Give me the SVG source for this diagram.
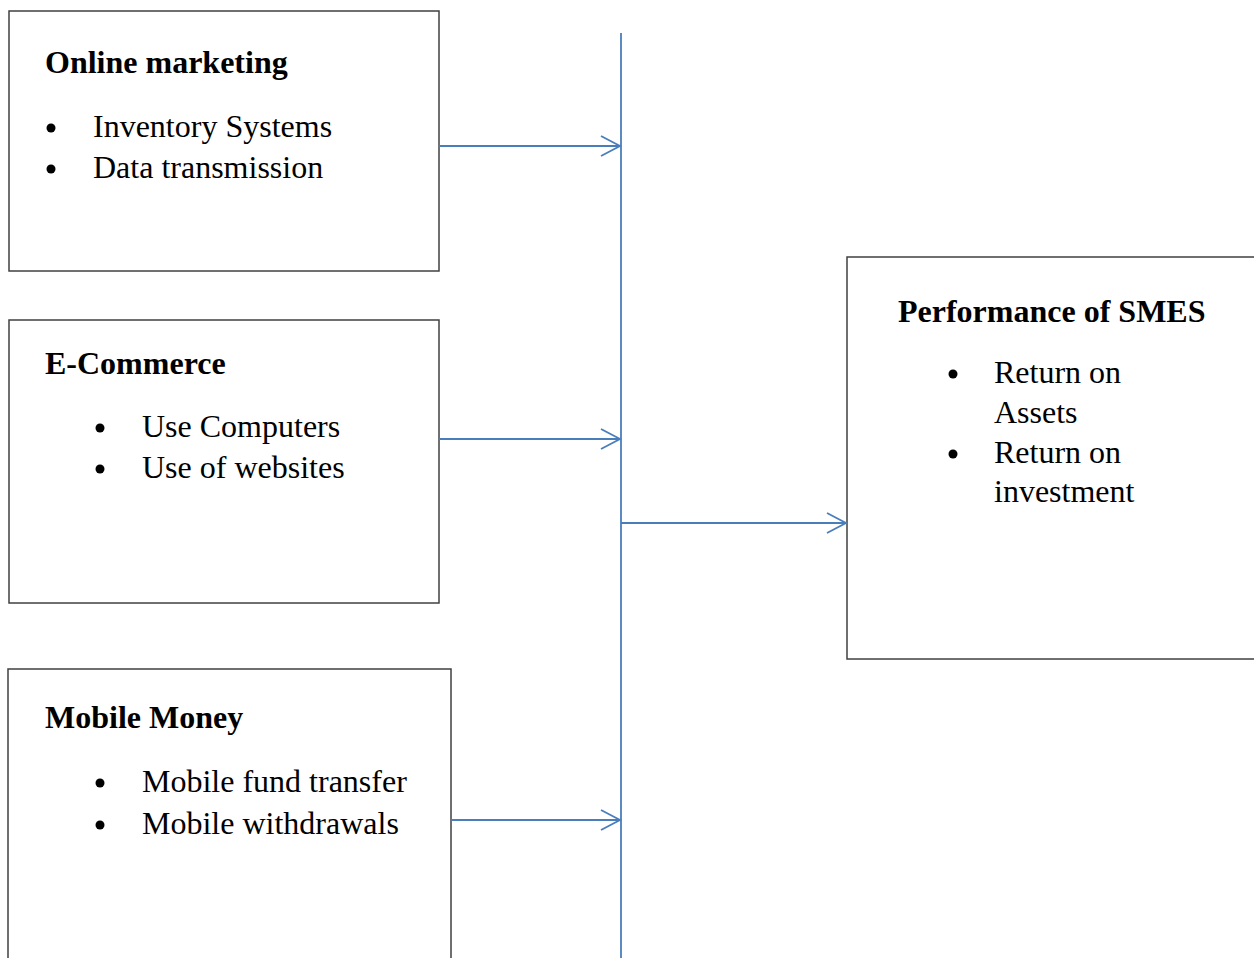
<svg xmlns="http://www.w3.org/2000/svg" width="1254" height="958" viewBox="0 0 1254 958">
  <style>
    .box { fill: #ffffff; stroke: #404040; stroke-width: 1.5; }
    .title { font-family: "Liberation Serif", "Times New Roman", serif; font-size: 32px; font-weight: bold; fill: #000000; }
    .item { font-family: "Liberation Serif", "Times New Roman", serif; font-size: 32px; fill: #000000; }
    .bullet { fill: #000000; }
    .conn { stroke: #4A7EBB; stroke-width: 1.8; fill: none; }
  </style>
  <defs>
    <marker id="open" markerUnits="userSpaceOnUse" markerWidth="24" markerHeight="24" refX="20" refY="11" orient="auto">
      <path d="M1,1 L20,11 L1,21" fill="none" stroke="#4A7EBB" stroke-width="1.8"/>
    </marker>
  </defs>
  <rect width="1254" height="958" fill="#ffffff"/>

  <g id="node-online-marketing">
    <rect class="box" x="9" y="11" width="430" height="260"/>
    <text class="title" x="45" y="73">Online marketing</text>
    <circle class="bullet" cx="51" cy="128" r="4.5"/>
    <text class="item" x="93" y="137">Inventory Systems</text>
    <circle class="bullet" cx="51" cy="169" r="4.5"/>
    <text class="item" x="93" y="178">Data transmission</text>
  </g>

  <g id="node-e-commerce">
    <rect class="box" x="9" y="320" width="430" height="283"/>
    <text class="title" x="45" y="374">E-Commerce</text>
    <circle class="bullet" cx="100" cy="428" r="4.5"/>
    <text class="item" x="142" y="437">Use Computers</text>
    <circle class="bullet" cx="100" cy="469" r="4.5"/>
    <text class="item" x="142" y="478">Use of websites</text>
  </g>

  <g id="node-mobile-money">
    <rect class="box" x="8" y="669" width="443" height="320"/>
    <text class="title" x="45" y="728">Mobile Money</text>
    <circle class="bullet" cx="100" cy="783" r="4.5"/>
    <text class="item" x="142" y="792">Mobile fund transfer</text>
    <circle class="bullet" cx="100" cy="825" r="4.5"/>
    <text class="item" x="142" y="834">Mobile withdrawals</text>
  </g>

  <g id="node-performance">
    <rect class="box" x="847" y="257" width="430" height="402"/>
    <text class="title" x="898" y="322">Performance of SMES</text>
    <circle class="bullet" cx="953" cy="374" r="4.5"/>
    <text class="item" x="994" y="383">Return on</text>
    <text class="item" x="994" y="423">Assets</text>
    <circle class="bullet" cx="953" cy="454" r="4.5"/>
    <text class="item" x="994" y="463">Return on</text>
    <text class="item" x="994" y="502">investment</text>
  </g>

  <g id="connectors">
    <line class="conn" x1="621" y1="33" x2="621" y2="958"/>
    <line class="conn" x1="439" y1="146" x2="620" y2="146" marker-end="url(#open)"/>
    <line class="conn" x1="439" y1="439" x2="620" y2="439" marker-end="url(#open)"/>
    <line class="conn" x1="621" y1="523" x2="846" y2="523" marker-end="url(#open)"/>
    <line class="conn" x1="451" y1="820" x2="620" y2="820" marker-end="url(#open)"/>
  </g>
</svg>
